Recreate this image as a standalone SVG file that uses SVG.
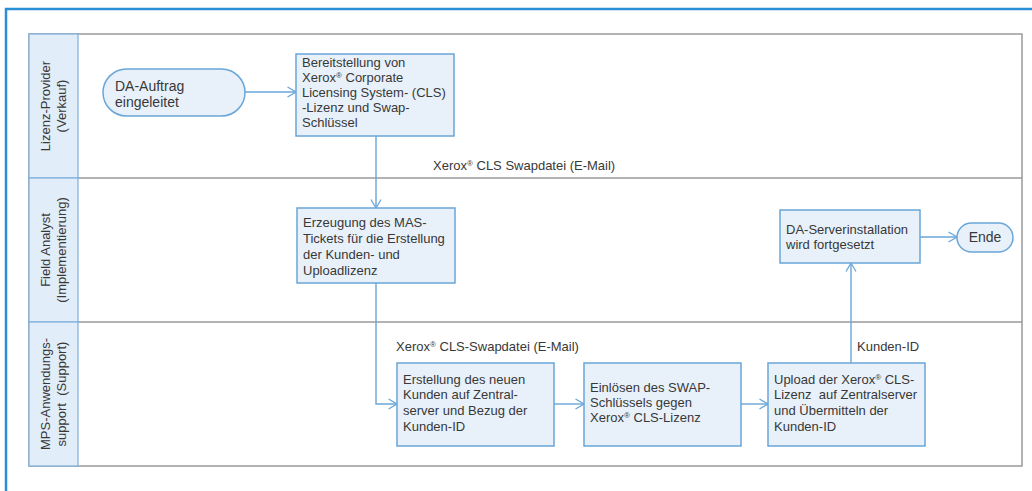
<svg xmlns="http://www.w3.org/2000/svg" width="1032" height="491" viewBox="0 0 1032 491">
<style>
  text { font-family: "Liberation Sans", Arial, sans-serif; font-size: 13px; fill: #383838; }
  .box { fill: #e8f1fa; stroke: #6aa6d8; stroke-width: 1.5; }
  .pill { fill: #e8f1fa; stroke: #6aa6d8; stroke-width: 1.5; }
  .hdr { fill: #e1edf8; stroke: #7fb0dc; stroke-width: 1.2; }
  .lane { fill: none; stroke: #9a9a9a; stroke-width: 1.5; }
  .conn { fill: none; stroke: #6aa6d8; stroke-width: 1.4; }
  .big { font-size: 14px; }
  .sup { font-size: 8px; }
</style>
<defs>
  <marker id="arr" viewBox="0 0 10 12" refX="9.5" refY="6" markerWidth="10" markerHeight="12" markerUnits="userSpaceOnUse" orient="auto">
    <path d="M1,1 L9.5,6 L1,11" fill="none" stroke="#6aa6d8" stroke-width="1.3"/>
  </marker>
</defs>
<rect width="1032" height="491" fill="#ffffff"/>
<!-- outer blue frame -->
<rect x="6" y="9" width="1060" height="520" fill="none" stroke="#2b8fd5" stroke-width="2.5"/>

<!-- swimlanes -->
<g id="lanes">
  <rect class="lane" x="29" y="34" width="993" height="432"/>
  <line class="lane" x1="29" y1="178" x2="1022" y2="178"/>
  <line class="lane" x1="29" y1="322" x2="1022" y2="322"/>
  <rect class="hdr" x="29" y="34" width="49" height="144"/>
  <rect class="hdr" x="29" y="178" width="49" height="144"/>
  <rect class="hdr" x="29" y="322" width="49" height="144"/>
  <g id="lane1-label" transform="translate(59,106) rotate(-90)">
    <text x="0" y="-9" text-anchor="middle">Lizenz-Provider</text>
    <text x="0" y="7" text-anchor="middle">(Verkauf)</text>
  </g>
  <g id="lane2-label" transform="translate(59,250) rotate(-90)">
    <text x="0" y="-9" text-anchor="middle">Field Analyst</text>
    <text x="0" y="7" text-anchor="middle">(Implementierung)</text>
  </g>
  <g id="lane3-label" transform="translate(59,394) rotate(-90)">
    <text x="0" y="-9" text-anchor="middle">MPS-Anwendungs-</text>
    <text x="0" y="7" text-anchor="middle" xml:space="preserve">support  (Support)</text>
  </g>
</g>

<!-- connectors -->
<g id="connectors">
  <path class="conn" d="M245,92 L296,92" marker-end="url(#arr)"/>
  <path class="conn" d="M376,136 L376,208" marker-end="url(#arr)"/>
  <path class="conn" d="M376,283 L376,404 L397,404" marker-end="url(#arr)"/>
  <path class="conn" d="M554,404 L584,404" marker-end="url(#arr)"/>
  <path class="conn" d="M741,404 L768,404" marker-end="url(#arr)"/>
  <path class="conn" d="M851,363 L851,263" marker-end="url(#arr)"/>
  <path class="conn" d="M920,237 L957,237" marker-end="url(#arr)"/>
  <text x="433" y="170">Xerox<tspan class="sup" dy="-4">®</tspan><tspan dy="4"> CLS Swapdatei (E-Mail)</tspan></text>
  <text x="396" y="351">Xerox<tspan class="sup" dy="-4">®</tspan><tspan dy="4"> CLS-Swapdatei (E-Mail)</tspan></text>
  <text x="857" y="351">Kunden-ID</text>
</g>

<!-- nodes -->
<g id="start">
  <rect class="pill" x="103" y="69" width="142" height="47" rx="23.5" ry="23.5"/>
  <text class="big" x="115" y="91">DA-Auftrag</text>
  <text class="big" x="115" y="107">eingeleitet</text>
</g>
<g id="box1">
  <rect class="box" x="296" y="54" width="158" height="82"/>
  <text x="302" y="67">Bereitstellung von</text>
  <text x="302" y="82">Xerox<tspan class="sup" dy="-4">®</tspan><tspan dy="4"> Corporate</tspan></text>
  <text x="302" y="97">Licensing System- (CLS)</text>
  <text x="302" y="112">-Lizenz und Swap-</text>
  <text x="302" y="127">Schlüssel</text>
</g>
<g id="box2">
  <rect class="box" x="297" y="208" width="158" height="75"/>
  <text x="303" y="227">Erzeugung des MAS-</text>
  <text x="303" y="243">Tickets für die Erstellung</text>
  <text x="303" y="259">der Kunden- und</text>
  <text x="303" y="275">Uploadlizenz</text>
</g>
<g id="box3">
  <rect class="box" x="397" y="363" width="157" height="83"/>
  <text x="403" y="384">Erstellung des neuen</text>
  <text x="403" y="399">Kunden auf Zentral-</text>
  <text x="403" y="415">server und Bezug der</text>
  <text x="403" y="431">Kunden-ID</text>
</g>
<g id="box4">
  <rect class="box" x="584" y="363" width="157" height="83"/>
  <text x="590" y="392">Einlösen des SWAP-</text>
  <text x="590" y="407">Schlüssels gegen</text>
  <text x="590" y="422">Xerox<tspan class="sup" dy="-4">®</tspan><tspan dy="4"> CLS-Lizenz</tspan></text>
</g>
<g id="box5">
  <rect class="box" x="768" y="363" width="157" height="83"/>
  <text x="774" y="384">Upload der Xerox<tspan class="sup" dy="-4">®</tspan><tspan dy="4"> CLS-</tspan></text>
  <text x="774" y="399" xml:space="preserve">Lizenz  auf Zentralserver</text>
  <text x="774" y="415">und Übermitteln der</text>
  <text x="774" y="431">Kunden-ID</text>
</g>
<g id="box6">
  <rect class="box" x="780" y="210" width="140" height="53"/>
  <text x="786" y="234">DA-Serverinstallation</text>
  <text x="786" y="249">wird fortgesetzt</text>
</g>
<g id="ende">
  <rect class="pill" x="957" y="223" width="56" height="29" rx="14.5" ry="14.5"/>
  <text class="big" x="985" y="242" text-anchor="middle">Ende</text>
</g>
</svg>
